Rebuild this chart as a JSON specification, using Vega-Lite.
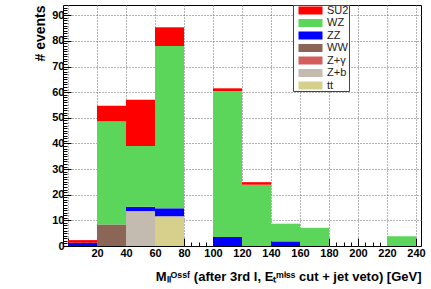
{
  "$schema": "https://vega.github.io/schema/vega-lite/v6.json",
  "width": 358,
  "height": 241,
  "autosize": {"type": "none"},
  "padding": {"left": 63, "top": 5, "right": 10, "bottom": 43},
  "background": "white",
  "view": {"stroke": "black", "strokeWidth": 1},
  "datasets": {
    "processes": [
      {"process": "tt", "layer": 1},
      {"process": "Z+b", "layer": 2},
      {"process": "Z+γ", "layer": 3},
      {"process": "WW", "layer": 4},
      {"process": "ZZ", "layer": 5},
      {"process": "WZ", "layer": 6},
      {"process": "SU2", "layer": 7}
    ]
  },
  "data": {
    "values": [
      {"lo": 0, "hi": 20, "process": "ZZ", "events": 1.3},
      {"lo": 0, "hi": 20, "process": "SU2", "events": 1.0},
      {"lo": 20, "hi": 40, "process": "WW", "events": 8.4},
      {"lo": 20, "hi": 40, "process": "WZ", "events": 40.2},
      {"lo": 20, "hi": 40, "process": "SU2", "events": 6.1},
      {"lo": 40, "hi": 60, "process": "Z+b", "events": 13.6},
      {"lo": 40, "hi": 60, "process": "ZZ", "events": 1.7},
      {"lo": 40, "hi": 60, "process": "WZ", "events": 23.7},
      {"lo": 40, "hi": 60, "process": "SU2", "events": 18.0},
      {"lo": 60, "hi": 80, "process": "tt", "events": 11.6},
      {"lo": 60, "hi": 80, "process": "ZZ", "events": 3.1},
      {"lo": 60, "hi": 80, "process": "WZ", "events": 63.3},
      {"lo": 60, "hi": 80, "process": "SU2", "events": 7.3},
      {"lo": 100, "hi": 120, "process": "ZZ", "events": 3.5},
      {"lo": 100, "hi": 120, "process": "WZ", "events": 56.9},
      {"lo": 100, "hi": 120, "process": "SU2", "events": 1.1},
      {"lo": 120, "hi": 140, "process": "WZ", "events": 23.9},
      {"lo": 120, "hi": 140, "process": "SU2", "events": 1.0},
      {"lo": 140, "hi": 160, "process": "ZZ", "events": 1.8},
      {"lo": 140, "hi": 160, "process": "WZ", "events": 6.9},
      {"lo": 160, "hi": 180, "process": "WZ", "events": 7.1},
      {"lo": 220, "hi": 240, "process": "WZ", "events": 3.8}
    ]
  },
  "transform": [
    {"lookup": "process", "from": {"data": {"name": "processes"}, "key": "process", "fields": ["layer"]}}
  ],
  "mark": {"type": "bar", "strokeWidth": 0},
  "encoding": {
    "x": {
      "field": "lo",
      "type": "quantitative",
      "scale": {"domain": [0, 240], "nice": false, "zero": false},
      "axis": {
        "values": [0,5,10,15,20,25,30,35,40,45,50,55,60,65,70,75,80,85,90,95,100,105,110,115,120,125,130,135,140,145,150,155,160,165,170,175,180,185,190,195,200,205,210,215,220,225,230,235,240],
        "labelExpr": "datum.value % 20 === 0 && datum.value > 0 ? datum.label : ''",
        "labelOverlap": false,
        "labelFlush": false,
        "labelFont": "Liberation Sans",
        "labelFontWeight": "bold",
        "labelFontSize": 11,
        "labelColor": "black",
        "labelPadding": 9,
        "tickSize": {"condition": {"test": "datum.value % 20 === 0", "value": -8}, "value": -4},
        "tickColor": "black",
        "domain": false,
        "grid": true,
        "gridOpacity": {"condition": {"test": "datum.value % 20 === 0", "value": 1}, "value": 0},
        "gridColor": "#666",
        "gridDash": [1, 2],
        "title": "Mₗₗᴼˢˢᶠ (after 3rd l, Eₜᵐⁱˢˢ cut + jet veto) [GeV]",
        "titleFont": "Liberation Sans",
        "titleFontWeight": "bold",
        "titleFontSize": 13,
        "titleColor": "black",
        "titleAnchor": "end",
        "titlePadding": 8
      }
    },
    "x2": {"field": "hi"},
    "y": {
      "field": "events",
      "type": "quantitative",
      "aggregate": "sum",
      "stack": "zero",
      "scale": {"domain": [0, 94], "nice": false},
      "axis": {
        "values": [0,1,2,3,4,5,6,7,8,9,10,11,12,13,14,15,16,17,18,19,20,21,22,23,24,25,26,27,28,29,30,31,32,33,34,35,36,37,38,39,40,41,42,43,44,45,46,47,48,49,50,51,52,53,54,55,56,57,58,59,60,61,62,63,64,65,66,67,68,69,70,71,72,73,74,75,76,77,78,79,80,81,82,83,84,85,86,87,88,89,90,91,92,93],
        "labelExpr": "datum.value % 10 === 0 ? datum.label : ''",
        "labelOverlap": false,
        "labelFlush": false,
        "labelFont": "Liberation Sans",
        "labelFontWeight": "bold",
        "labelFontSize": 11,
        "labelColor": "black",
        "labelPadding": 7,
        "tickSize": {"condition": {"test": "datum.value % 10 === 0", "value": -8}, "value": -4},
        "tickColor": "black",
        "domain": false,
        "grid": true,
        "gridOpacity": {"condition": {"test": "datum.value % 10 === 0 && datum.value > 0", "value": 1}, "value": 0},
        "gridColor": "#666",
        "gridDash": [1, 2],
        "title": "# events",
        "titleFont": "Liberation Sans",
        "titleFontWeight": "bold",
        "titleFontSize": 14,
        "titleColor": "black",
        "titleAnchor": "end",
        "titlePadding": 4
      }
    },
    "order": {"field": "layer", "type": "quantitative", "sort": "ascending"},
    "color": {
      "field": "process",
      "type": "nominal",
      "scale": {
        "domain": ["SU2", "WZ", "ZZ", "WW", "Z+γ", "Z+b", "tt"],
        "range": ["#ff0000", "#5bd65b", "#0000ff", "#8b6656", "#d35d5d", "#c4bbb0", "#d6d08c"]
      },
      "legend": {
        "orient": "none",
        "legendX": 230,
        "legendY": 0,
        "title": null,
        "symbolType": "M0,-0.8H4.8V0.8H0Z",
        "symbolSize": 100,
        "symbolStrokeWidth": 0,
        "labelFont": "Liberation Sans",
        "labelFontSize": 11,
        "labelColor": "#222",
        "labelOffset": 23,
        "rowPadding": 0.5,
        "padding": 0,
        "strokeColor": "#444",
        "fillColor": "white",
        "labelExpr": "datum.label + '\u00a0\u00a0\u00a0\u00a0\u00a0\u00a0\u00a0\u00a0\u00a0\u00a0\u00a0\u00a0\u00a0\u00a0\u00a0\u00a0\u00a0\u00a0\u00a0\u00a0\u00a0\u00a0\u00a0\u00a0'"
      }
    }
  }
}
